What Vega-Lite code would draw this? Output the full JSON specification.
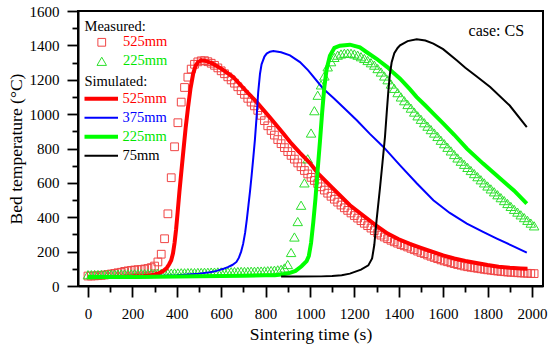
{
"$schema": "https://vega.github.io/schema/vega-lite/v6.json",
"width": 465, "height": 275,
"autosize": {"type": "none"},
"padding": {"left": 78, "top": 11, "right": 7, "bottom": 63},
"background": "white",
"config": {
  "font": "Liberation Serif, Times New Roman, Times, serif",
  "view": {"stroke": "black", "strokeWidth": 2},
  "axis": {"grid": false, "domainColor": "black", "domainWidth": 2, "tickColor": "black", "tickWidth": 1.8, "labelColor": "black", "labelFont": "Liberation Serif, Times New Roman, Times, serif", "labelFontSize": 15, "titleFont": "Liberation Serif, Times New Roman, Times, serif", "titleFontSize": 17.5, "titleFontWeight": "normal", "titleColor": "black"},
  "legend": {"titleFont": "Liberation Serif, Times New Roman, Times, serif", "labelFont": "Liberation Serif, Times New Roman, Times, serif", "titleFontSize": 14.5, "labelFontSize": 14.5, "titleFontWeight": "normal", "titleColor": "black", "padding": 0, "offset": 0}
},
"datasets": {
"meas": [
{"series":"525mm","t":0,"T":58},{"series":"525mm","t":15,"T":58},{"series":"525mm","t":30,"T":59},{"series":"525mm","t":45,"T":60},{"series":"525mm","t":60,"T":62},{"series":"525mm","t":75,"T":64},{"series":"525mm","t":90,"T":67},{"series":"525mm","t":105,"T":70},{"series":"525mm","t":120,"T":73},{"series":"525mm","t":135,"T":77},{"series":"525mm","t":150,"T":80},{"series":"525mm","t":165,"T":85},{"series":"525mm","t":180,"T":88},{"series":"525mm","t":195,"T":91},{"series":"525mm","t":210,"T":93},{"series":"525mm","t":225,"T":95},{"series":"525mm","t":240,"T":96},{"series":"525mm","t":255,"T":99},{"series":"525mm","t":270,"T":102},{"series":"525mm","t":285,"T":107},{"series":"525mm","t":300,"T":116},{"series":"525mm","t":315,"T":140},{"series":"525mm","t":330,"T":185},{"series":"525mm","t":345,"T":275},{"series":"525mm","t":360,"T":420},{"series":"525mm","t":375,"T":630},{"series":"525mm","t":390,"T":810},{"series":"525mm","t":405,"T":950},{"series":"525mm","t":420,"T":1070},{"series":"525mm","t":435,"T":1155},{"series":"525mm","t":450,"T":1215},{"series":"525mm","t":465,"T":1262},{"series":"525mm","t":480,"T":1290},{"series":"525mm","t":495,"T":1304},{"series":"525mm","t":510,"T":1310},{"series":"525mm","t":525,"T":1311},{"series":"525mm","t":540,"T":1305},{"series":"525mm","t":555,"T":1296},{"series":"525mm","t":570,"T":1284},{"series":"525mm","t":585,"T":1269},{"series":"525mm","t":600,"T":1252},{"series":"525mm","t":615,"T":1235},{"series":"525mm","t":630,"T":1217},{"series":"525mm","t":645,"T":1199},{"series":"525mm","t":660,"T":1180},{"series":"525mm","t":675,"T":1159},{"series":"525mm","t":690,"T":1137},{"series":"525mm","t":705,"T":1115},{"series":"525mm","t":720,"T":1092},{"series":"525mm","t":735,"T":1070},{"series":"525mm","t":750,"T":1048},{"series":"525mm","t":765,"T":1022},{"series":"525mm","t":780,"T":993},{"series":"525mm","t":795,"T":962},{"series":"525mm","t":810,"T":932},{"series":"525mm","t":825,"T":905},{"series":"525mm","t":840,"T":878},{"series":"525mm","t":855,"T":852},{"series":"525mm","t":870,"T":828},{"series":"525mm","t":885,"T":805},{"series":"525mm","t":900,"T":782},{"series":"525mm","t":915,"T":760},{"series":"525mm","t":930,"T":738},{"series":"525mm","t":945,"T":716},{"series":"525mm","t":960,"T":694},{"series":"525mm","t":975,"T":672},{"series":"525mm","t":990,"T":652},{"series":"525mm","t":1005,"T":632},{"series":"525mm","t":1020,"T":614},{"series":"525mm","t":1035,"T":596},{"series":"525mm","t":1050,"T":577},{"series":"525mm","t":1065,"T":558},{"series":"525mm","t":1080,"T":540},{"series":"525mm","t":1095,"T":522},{"series":"525mm","t":1110,"T":505},{"series":"525mm","t":1125,"T":488},{"series":"525mm","t":1140,"T":471},{"series":"525mm","t":1155,"T":455},{"series":"525mm","t":1170,"T":440},{"series":"525mm","t":1185,"T":425},{"series":"525mm","t":1200,"T":410},{"series":"525mm","t":1215,"T":395},{"series":"525mm","t":1230,"T":380},{"series":"525mm","t":1245,"T":365},{"series":"525mm","t":1260,"T":351},{"series":"525mm","t":1275,"T":337},{"series":"525mm","t":1290,"T":322},{"series":"525mm","t":1305,"T":308},{"series":"525mm","t":1320,"T":296},{"series":"525mm","t":1335,"T":285},{"series":"525mm","t":1350,"T":275},{"series":"525mm","t":1365,"T":266},{"series":"525mm","t":1380,"T":257},{"series":"525mm","t":1395,"T":249},{"series":"525mm","t":1410,"T":241},{"series":"525mm","t":1425,"T":234},{"series":"525mm","t":1440,"T":227},{"series":"525mm","t":1455,"T":219},{"series":"525mm","t":1470,"T":211},{"series":"525mm","t":1485,"T":203},{"series":"525mm","t":1500,"T":195},{"series":"525mm","t":1515,"T":188},{"series":"525mm","t":1530,"T":180},{"series":"525mm","t":1545,"T":173},{"series":"525mm","t":1560,"T":166},{"series":"525mm","t":1575,"T":159},{"series":"525mm","t":1590,"T":152},{"series":"525mm","t":1605,"T":146},{"series":"525mm","t":1620,"T":141},{"series":"525mm","t":1635,"T":135},{"series":"525mm","t":1650,"T":130},{"series":"525mm","t":1665,"T":125},{"series":"525mm","t":1680,"T":121},{"series":"525mm","t":1695,"T":116},{"series":"525mm","t":1710,"T":112},{"series":"525mm","t":1725,"T":109},{"series":"525mm","t":1740,"T":106},{"series":"525mm","t":1755,"T":103},{"series":"525mm","t":1770,"T":100},{"series":"525mm","t":1785,"T":97},{"series":"525mm","t":1800,"T":94},{"series":"525mm","t":1815,"T":92},{"series":"525mm","t":1830,"T":89},{"series":"525mm","t":1845,"T":87},{"series":"525mm","t":1860,"T":85},{"series":"525mm","t":1875,"T":83},{"series":"525mm","t":1890,"T":81},{"series":"525mm","t":1905,"T":80},{"series":"525mm","t":1920,"T":79},{"series":"525mm","t":1935,"T":77},{"series":"525mm","t":1950,"T":76},{"series":"525mm","t":1965,"T":75},{"series":"525mm","t":1980,"T":74},{"series":"525mm","t":1995,"T":73},{"series":"525mm","t":2010,"T":72},
{"series":"225mm","t":0,"T":66},{"series":"225mm","t":15,"T":66},{"series":"225mm","t":30,"T":67},{"series":"225mm","t":45,"T":67},{"series":"225mm","t":60,"T":67},{"series":"225mm","t":75,"T":68},{"series":"225mm","t":90,"T":68},{"series":"225mm","t":105,"T":68},{"series":"225mm","t":120,"T":69},{"series":"225mm","t":135,"T":69},{"series":"225mm","t":150,"T":69},{"series":"225mm","t":165,"T":70},{"series":"225mm","t":180,"T":70},{"series":"225mm","t":195,"T":70},{"series":"225mm","t":210,"T":71},{"series":"225mm","t":225,"T":71},{"series":"225mm","t":240,"T":72},{"series":"225mm","t":255,"T":72},{"series":"225mm","t":270,"T":72},{"series":"225mm","t":285,"T":73},{"series":"225mm","t":300,"T":73},{"series":"225mm","t":315,"T":74},{"series":"225mm","t":330,"T":74},{"series":"225mm","t":345,"T":75},{"series":"225mm","t":360,"T":75},{"series":"225mm","t":375,"T":75},{"series":"225mm","t":390,"T":76},{"series":"225mm","t":405,"T":76},{"series":"225mm","t":420,"T":77},{"series":"225mm","t":435,"T":77},{"series":"225mm","t":450,"T":78},{"series":"225mm","t":465,"T":78},{"series":"225mm","t":480,"T":78},{"series":"225mm","t":495,"T":79},{"series":"225mm","t":510,"T":79},{"series":"225mm","t":525,"T":80},{"series":"225mm","t":540,"T":80},{"series":"225mm","t":555,"T":81},{"series":"225mm","t":570,"T":81},{"series":"225mm","t":585,"T":82},{"series":"225mm","t":600,"T":82},{"series":"225mm","t":615,"T":82},{"series":"225mm","t":630,"T":83},{"series":"225mm","t":645,"T":83},{"series":"225mm","t":660,"T":84},{"series":"225mm","t":675,"T":84},{"series":"225mm","t":690,"T":85},{"series":"225mm","t":705,"T":85},{"series":"225mm","t":720,"T":85},{"series":"225mm","t":735,"T":86},{"series":"225mm","t":750,"T":86},{"series":"225mm","t":765,"T":87},{"series":"225mm","t":780,"T":87},{"series":"225mm","t":795,"T":88},{"series":"225mm","t":810,"T":89},{"series":"225mm","t":825,"T":90},{"series":"225mm","t":840,"T":92},{"series":"225mm","t":855,"T":94},{"series":"225mm","t":870,"T":97},{"series":"225mm","t":885,"T":105},{"series":"225mm","t":900,"T":125},{"series":"225mm","t":915,"T":195},{"series":"225mm","t":930,"T":285},{"series":"225mm","t":945,"T":375},{"series":"225mm","t":960,"T":470},{"series":"225mm","t":975,"T":600},{"series":"225mm","t":990,"T":740},{"series":"225mm","t":1005,"T":890},{"series":"225mm","t":1020,"T":1020},{"series":"225mm","t":1035,"T":1110},{"series":"225mm","t":1050,"T":1170},{"series":"225mm","t":1065,"T":1222},{"series":"225mm","t":1080,"T":1275},{"series":"225mm","t":1095,"T":1305},{"series":"225mm","t":1110,"T":1330},{"series":"225mm","t":1125,"T":1343},{"series":"225mm","t":1140,"T":1350},{"series":"225mm","t":1155,"T":1354},{"series":"225mm","t":1170,"T":1355},{"series":"225mm","t":1185,"T":1354},{"series":"225mm","t":1200,"T":1350},{"series":"225mm","t":1215,"T":1343},{"series":"225mm","t":1230,"T":1334},{"series":"225mm","t":1245,"T":1324},{"series":"225mm","t":1260,"T":1312},{"series":"225mm","t":1275,"T":1299},{"series":"225mm","t":1290,"T":1285},{"series":"225mm","t":1305,"T":1265},{"series":"225mm","t":1320,"T":1245},{"series":"225mm","t":1335,"T":1222},{"series":"225mm","t":1350,"T":1200},{"series":"225mm","t":1365,"T":1175},{"series":"225mm","t":1380,"T":1150},{"series":"225mm","t":1395,"T":1125},{"series":"225mm","t":1410,"T":1100},{"series":"225mm","t":1425,"T":1078},{"series":"225mm","t":1440,"T":1056},{"series":"225mm","t":1455,"T":1035},{"series":"225mm","t":1470,"T":1012},{"series":"225mm","t":1485,"T":990},{"series":"225mm","t":1500,"T":970},{"series":"225mm","t":1515,"T":950},{"series":"225mm","t":1530,"T":930},{"series":"225mm","t":1545,"T":910},{"series":"225mm","t":1560,"T":890},{"series":"225mm","t":1575,"T":870},{"series":"225mm","t":1590,"T":848},{"series":"225mm","t":1605,"T":828},{"series":"225mm","t":1620,"T":807},{"series":"225mm","t":1635,"T":786},{"series":"225mm","t":1650,"T":765},{"series":"225mm","t":1665,"T":745},{"series":"225mm","t":1680,"T":726},{"series":"225mm","t":1695,"T":708},{"series":"225mm","t":1710,"T":690},{"series":"225mm","t":1725,"T":672},{"series":"225mm","t":1740,"T":654},{"series":"225mm","t":1755,"T":636},{"series":"225mm","t":1770,"T":618},{"series":"225mm","t":1785,"T":600},{"series":"225mm","t":1800,"T":582},{"series":"225mm","t":1815,"T":565},{"series":"225mm","t":1830,"T":548},{"series":"225mm","t":1845,"T":531},{"series":"225mm","t":1860,"T":514},{"series":"225mm","t":1875,"T":497},{"series":"225mm","t":1890,"T":480},{"series":"225mm","t":1905,"T":463},{"series":"225mm","t":1920,"T":446},{"series":"225mm","t":1935,"T":430},{"series":"225mm","t":1950,"T":414},{"series":"225mm","t":1965,"T":398},{"series":"225mm","t":1980,"T":382},{"series":"225mm","t":1995,"T":366},{"series":"225mm","t":2010,"T":350}
],
"sim": [
{"sim":"525mm","t":0,"T":52},{"sim":"525mm","t":50,"T":52},{"sim":"525mm","t":100,"T":53},{"sim":"525mm","t":150,"T":54},{"sim":"525mm","t":200,"T":55},{"sim":"525mm","t":250,"T":58},{"sim":"525mm","t":280,"T":62},{"sim":"525mm","t":300,"T":67},{"sim":"525mm","t":320,"T":74},{"sim":"525mm","t":340,"T":88},{"sim":"525mm","t":355,"T":105},{"sim":"525mm","t":365,"T":125},{"sim":"525mm","t":375,"T":150},{"sim":"525mm","t":383,"T":190},{"sim":"525mm","t":390,"T":250},{"sim":"525mm","t":397,"T":330},{"sim":"525mm","t":404,"T":430},{"sim":"525mm","t":412,"T":550},{"sim":"525mm","t":421,"T":670},{"sim":"525mm","t":430,"T":790},{"sim":"525mm","t":440,"T":920},{"sim":"525mm","t":451,"T":1041},{"sim":"525mm","t":462,"T":1150},{"sim":"525mm","t":474,"T":1236},{"sim":"525mm","t":485,"T":1282},{"sim":"525mm","t":496,"T":1303},{"sim":"525mm","t":511,"T":1313},{"sim":"525mm","t":530,"T":1310},{"sim":"525mm","t":560,"T":1295},{"sim":"525mm","t":600,"T":1265},{"sim":"525mm","t":654,"T":1216},{"sim":"525mm","t":700,"T":1152},{"sim":"525mm","t":760,"T":1070},{"sim":"525mm","t":820,"T":980},{"sim":"525mm","t":880,"T":887},{"sim":"525mm","t":917,"T":828},{"sim":"525mm","t":955,"T":775},{"sim":"525mm","t":1000,"T":715},{"sim":"525mm","t":1037,"T":654},{"sim":"525mm","t":1100,"T":572},{"sim":"525mm","t":1180,"T":470},{"sim":"525mm","t":1250,"T":400},{"sim":"525mm","t":1300,"T":350},{"sim":"525mm","t":1350,"T":305},{"sim":"525mm","t":1400,"T":272},{"sim":"525mm","t":1450,"T":245},{"sim":"525mm","t":1500,"T":222},{"sim":"525mm","t":1550,"T":200},{"sim":"525mm","t":1600,"T":178},{"sim":"525mm","t":1650,"T":160},{"sim":"525mm","t":1700,"T":146},{"sim":"525mm","t":1750,"T":134},{"sim":"525mm","t":1800,"T":122},{"sim":"525mm","t":1850,"T":112},{"sim":"525mm","t":1900,"T":106},{"sim":"525mm","t":1950,"T":102},{"sim":"525mm","t":1980,"T":100},
{"sim":"375mm","t":0,"T":50},{"sim":"375mm","t":100,"T":51},{"sim":"375mm","t":200,"T":54},{"sim":"375mm","t":300,"T":58},{"sim":"375mm","t":400,"T":63},{"sim":"375mm","t":500,"T":72},{"sim":"375mm","t":550,"T":80},{"sim":"375mm","t":580,"T":88},{"sim":"375mm","t":610,"T":100},{"sim":"375mm","t":630,"T":110},{"sim":"375mm","t":650,"T":122},{"sim":"375mm","t":669,"T":140},{"sim":"375mm","t":680,"T":165},{"sim":"375mm","t":690,"T":200},{"sim":"375mm","t":699,"T":245},{"sim":"375mm","t":708,"T":310},{"sim":"375mm","t":716,"T":390},{"sim":"375mm","t":723,"T":470},{"sim":"375mm","t":730,"T":550},{"sim":"375mm","t":737,"T":640},{"sim":"375mm","t":745,"T":750},{"sim":"375mm","t":752,"T":850},{"sim":"375mm","t":760,"T":990},{"sim":"375mm","t":767,"T":1130},{"sim":"375mm","t":775,"T":1235},{"sim":"375mm","t":782,"T":1290},{"sim":"375mm","t":795,"T":1335},{"sim":"375mm","t":805,"T":1352},{"sim":"375mm","t":820,"T":1363},{"sim":"375mm","t":835,"T":1367},{"sim":"375mm","t":870,"T":1360},{"sim":"375mm","t":910,"T":1342},{"sim":"375mm","t":955,"T":1303},{"sim":"375mm","t":992,"T":1255},{"sim":"375mm","t":1060,"T":1148},{"sim":"375mm","t":1105,"T":1095},{"sim":"375mm","t":1150,"T":1040},{"sim":"375mm","t":1211,"T":964},{"sim":"375mm","t":1270,"T":885},{"sim":"375mm","t":1331,"T":809},{"sim":"375mm","t":1406,"T":702},{"sim":"375mm","t":1481,"T":598},{"sim":"375mm","t":1556,"T":499},{"sim":"375mm","t":1630,"T":425},{"sim":"375mm","t":1707,"T":363},{"sim":"375mm","t":1780,"T":315},{"sim":"375mm","t":1842,"T":276},{"sim":"375mm","t":1910,"T":235},{"sim":"375mm","t":1977,"T":194},
{"sim":"225mm","t":0,"T":52},{"sim":"225mm","t":100,"T":52},{"sim":"225mm","t":200,"T":53},{"sim":"225mm","t":300,"T":54},{"sim":"225mm","t":400,"T":55},{"sim":"225mm","t":500,"T":57},{"sim":"225mm","t":600,"T":58},{"sim":"225mm","t":700,"T":60},{"sim":"225mm","t":800,"T":62},{"sim":"225mm","t":842,"T":63},{"sim":"225mm","t":880,"T":68},{"sim":"225mm","t":910,"T":76},{"sim":"225mm","t":935,"T":88},{"sim":"225mm","t":962,"T":115},{"sim":"225mm","t":985,"T":145},{"sim":"225mm","t":995,"T":175},{"sim":"225mm","t":1005,"T":250},{"sim":"225mm","t":1015,"T":370},{"sim":"225mm","t":1025,"T":510},{"sim":"225mm","t":1035,"T":680},{"sim":"225mm","t":1045,"T":840},{"sim":"225mm","t":1055,"T":1010},{"sim":"225mm","t":1065,"T":1160},{"sim":"225mm","t":1075,"T":1260},{"sim":"225mm","t":1090,"T":1340},{"sim":"225mm","t":1110,"T":1385},{"sim":"225mm","t":1135,"T":1398},{"sim":"225mm","t":1180,"T":1404},{"sim":"225mm","t":1225,"T":1388},{"sim":"225mm","t":1256,"T":1360},{"sim":"225mm","t":1300,"T":1322},{"sim":"225mm","t":1350,"T":1272},{"sim":"225mm","t":1376,"T":1240},{"sim":"225mm","t":1406,"T":1206},{"sim":"225mm","t":1450,"T":1145},{"sim":"225mm","t":1481,"T":1099},{"sim":"225mm","t":1520,"T":1050},{"sim":"225mm","t":1556,"T":1003},{"sim":"225mm","t":1601,"T":945},{"sim":"225mm","t":1650,"T":880},{"sim":"225mm","t":1707,"T":799},{"sim":"225mm","t":1780,"T":712},{"sim":"225mm","t":1857,"T":625},{"sim":"225mm","t":1920,"T":555},{"sim":"225mm","t":1977,"T":479},
{"sim":"75mm","t":870,"T":55},{"sim":"75mm","t":950,"T":55},{"sim":"75mm","t":1050,"T":56},{"sim":"75mm","t":1100,"T":58},{"sim":"75mm","t":1143,"T":62},{"sim":"75mm","t":1180,"T":72},{"sim":"75mm","t":1230,"T":95},{"sim":"75mm","t":1263,"T":120},{"sim":"75mm","t":1280,"T":160},{"sim":"75mm","t":1290,"T":240},{"sim":"75mm","t":1300,"T":380},{"sim":"75mm","t":1316,"T":576},{"sim":"75mm","t":1327,"T":720},{"sim":"75mm","t":1338,"T":867},{"sim":"75mm","t":1346,"T":1010},{"sim":"75mm","t":1353,"T":1130},{"sim":"75mm","t":1360,"T":1230},{"sim":"75mm","t":1368,"T":1300},{"sim":"75mm","t":1380,"T":1355},{"sim":"75mm","t":1395,"T":1385},{"sim":"75mm","t":1406,"T":1400},{"sim":"75mm","t":1440,"T":1425},{"sim":"75mm","t":1481,"T":1435},{"sim":"75mm","t":1520,"T":1428},{"sim":"75mm","t":1556,"T":1410},{"sim":"75mm","t":1600,"T":1378},{"sim":"75mm","t":1661,"T":1313},{"sim":"75mm","t":1700,"T":1270},{"sim":"75mm","t":1750,"T":1220},{"sim":"75mm","t":1812,"T":1158},{"sim":"75mm","t":1900,"T":1050},{"sim":"75mm","t":1977,"T":925}
]
},
"layer": [
 {
  "data": {"name": "meas"},
  "mark": {"type": "point", "filled": false, "strokeWidth": 1, "opacity": 1},
  "encoding": {
   "x": {"field": "t", "type": "quantitative", "scale": {"domain": [-45, 2050], "nice": false, "zero": false}, "axis": {"orient": "bottom", "values": [0,200,400,600,800,1000,1200,1400,1600,1800,2000], "format": "d", "title": "Sintering time (s)", "tickSize": 11, "labelPadding": 9, "titlePadding": 4}},
   "y": {"field": "T", "type": "quantitative", "scale": {"domain": [0, 1600], "nice": false}, "axis": {"orient": "left", "values": [0,200,400,600,800,1000,1200,1400,1600], "format": "d", "title": "Bed temperature (°C)", "tickSize": 11, "labelPadding": 8, "titlePadding": 4}},
   "shape": {"field": "series", "type": "nominal", "scale": {"domain": ["525mm","225mm"], "range": ["square","triangle-up"]}, "legend": {"title": "Measured:", "orient": "none", "legendX": 6.5, "legendY": 8.5, "direction": "vertical", "titlePadding": 1, "clipHeight": 14.6, "rowPadding": 3, "symbolOffset": 10, "labelOffset": 14, "symbolStrokeWidth": 1, "labelColor": {"expr": "datum.value == '525mm' ? '#ff0000' : '#00e600'"}}},
   "stroke": {"field": "series", "type": "nominal", "scale": {"domain": ["525mm","225mm"], "range": ["#f04545","#2ee02e"]}, "legend": {"title": "Measured:", "orient": "none", "legendX": 6.5, "legendY": 8.5, "direction": "vertical", "titlePadding": 1, "clipHeight": 14.6, "rowPadding": 3, "symbolOffset": 10, "labelOffset": 14, "symbolStrokeWidth": 1, "labelColor": {"expr": "datum.value == '525mm' ? '#ff0000' : '#00e600'"}}},
   "size": {"field": "series", "type": "nominal", "scale": {"type": "ordinal", "domain": ["525mm","225mm"], "range": [60, 90]}, "legend": {"title": "Measured:", "orient": "none", "legendX": 6.5, "legendY": 8.5, "direction": "vertical", "titlePadding": 1, "clipHeight": 14.6, "rowPadding": 3, "symbolOffset": 10, "labelOffset": 14, "symbolStrokeWidth": 1, "labelColor": {"expr": "datum.value == '525mm' ? '#ff0000' : '#00e600'"}}}
  }
 },
 {
  "data": {"name": "sim"},
  "mark": {"type": "line"},
  "encoding": {
   "x": {"field": "t", "type": "quantitative", "axis": {"orient": "bottom", "values": [100,300,500,700,900,1100,1300,1500,1700,1900], "labels": false, "domain": false, "title": null, "tickSize": 6, "grid": false}},
   "y": {"field": "T", "type": "quantitative", "axis": {"orient": "left", "values": [100,300,500,700,900,1100,1300,1500], "labels": false, "domain": false, "title": null, "tickSize": 6, "grid": false}},
   "color": {"field": "sim", "type": "nominal", "scale": {"domain": ["525mm","375mm","225mm","75mm"], "range": ["#ff0000","#0000ff","#00ff00","#000000"]}, "legend": {"title": "Simulated:", "orient": "none", "legendX": 6.5, "legendY": 64, "direction": "vertical", "titlePadding": 2, "clipHeight": 14.6, "rowPadding": 3, "symbolType": "stroke", "symbolSize": 1225, "symbolOffset": -3.5, "labelOffset": 2.5, "encode": {"labels": {"update": {"fill": {"signal": "datum.value == '525mm' ? '#ff0000' : datum.value == '375mm' ? '#0000ff' : datum.value == '225mm' ? '#00e600' : '#000000'"}}}, "symbols": {"update": {"strokeWidth": {"signal": "datum.value == '525mm' || datum.value == '225mm' ? 4 : 2.5"}}}}}},
   "strokeWidth": {"field": "sim", "type": "nominal", "scale": {"type": "ordinal", "domain": ["525mm","375mm","225mm","75mm"], "range": [4, 2, 4, 2]}, "legend": null}
  }
 },
 {
  "data": {"values": [{"label": "case: CS"}]},
  "mark": {"type": "text", "align": "right", "baseline": "middle", "fontSize": 16, "font": "Liberation Serif, Times New Roman, Times, serif", "color": "black"},
  "encoding": {
   "x": {"datum": 1965, "type": "quantitative", "axis": null},
   "y": {"datum": 1485, "type": "quantitative", "axis": null},
   "text": {"field": "label", "type": "nominal"}
  }
 }
],
"resolve": {"axis": {"x": "independent", "y": "independent"}}
}
